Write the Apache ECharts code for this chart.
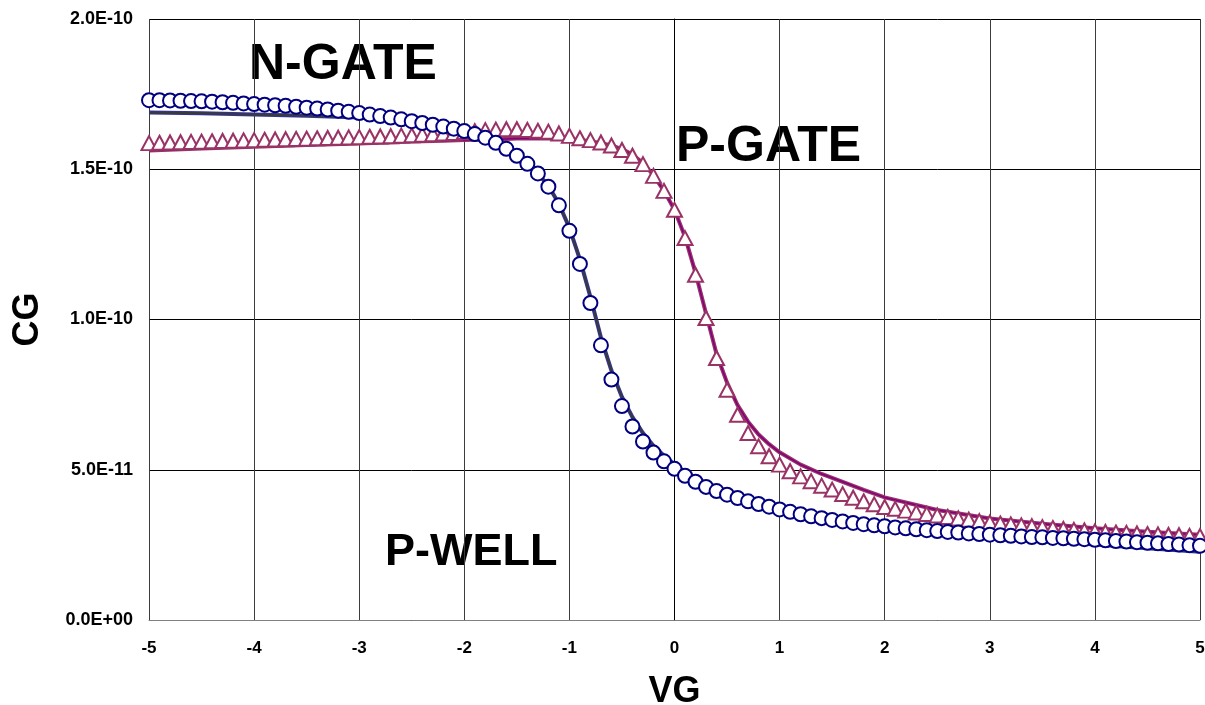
<!DOCTYPE html>
<html>
<head>
<meta charset="utf-8">
<script src="https://cdn.jsdelivr.net/npm/echarts@6/dist/echarts.min.js"></script>
<style>
  html, body { margin: 0; padding: 0; background: #fff; }
  #chart { width: 1205px; height: 705px; }
</style>
</head>
<body>
<div id="chart"></div>
<script>
// Gate voltage sweep, 0.1 V steps from -5 V to +5 V
const VG = Array.from({ length: 101 }, (_, i) => +(-5 + i * 0.1).toFixed(1));

// Measured gate capacitance, in units of 1E-11 F
const CG_N_GATE = [
  17.30, 17.30, 17.29, 17.28, 17.27, 17.26, 17.25, 17.23, 17.21, 17.19,
  17.17, 17.15, 17.13, 17.11, 17.08, 17.05, 17.02, 16.99, 16.95, 16.91,
  16.87, 16.82, 16.77, 16.72, 16.66, 16.60, 16.54, 16.48, 16.42, 16.35,
  16.27, 16.17, 16.05, 15.88, 15.68, 15.45, 15.18, 14.86, 14.42, 13.80,
  12.95, 11.85, 10.55, 9.14, 8.00, 7.12, 6.44, 5.94, 5.57, 5.28,
  5.03, 4.80, 4.60, 4.43, 4.29, 4.17, 4.06, 3.95, 3.86, 3.77,
  3.68, 3.60, 3.52, 3.45, 3.39, 3.33, 3.28, 3.23, 3.19, 3.15,
  3.12, 3.08, 3.05, 3.02, 2.99, 2.96, 2.93, 2.91, 2.88, 2.86,
  2.84, 2.82, 2.80, 2.78, 2.76, 2.75, 2.73, 2.72, 2.70, 2.69,
  2.67, 2.65, 2.63, 2.61, 2.59, 2.57, 2.55, 2.53, 2.51, 2.49,
  2.47
];

const CG_P_GATE = [
  15.87, 15.88, 15.89, 15.90, 15.91, 15.92, 15.93, 15.94, 15.95, 15.96,
  15.97, 15.98, 15.99, 16.00, 16.01, 16.02, 16.03, 16.04, 16.05, 16.06,
  16.07, 16.08, 16.09, 16.10, 16.12, 16.13, 16.15, 16.17, 16.19, 16.21,
  16.24, 16.27, 16.30, 16.32, 16.33, 16.33, 16.31, 16.28, 16.25, 16.19,
  16.11, 16.03, 15.97, 15.89, 15.79, 15.64, 15.45, 15.17, 14.78, 14.28,
  13.65, 12.71, 11.49, 10.05, 8.72, 7.66, 6.83, 6.22, 5.78, 5.45,
  5.17, 4.95, 4.78, 4.62, 4.47, 4.34, 4.19, 4.07, 3.95, 3.85,
  3.76, 3.70, 3.64, 3.58, 3.53, 3.48, 3.43, 3.38, 3.34, 3.29,
  3.24, 3.21, 3.18, 3.15, 3.12, 3.09, 3.06, 3.03, 3.00, 2.98,
  2.95, 2.93, 2.91, 2.90, 2.88, 2.86, 2.85, 2.83, 2.82, 2.80,
  2.79
];

// Simulated C-V curves, in units of 1E-11 F
const VG_FIT = [-5, -4.5, -4, -3.5, -3, -2.5, -2.2, -2, -1.8, -1.6, -1.5, -1.4, -1.3, -1.2, -1.1, -1.0,
  -0.9, -0.8, -0.7, -0.6, -0.5, -0.4, -0.3, -0.2, -0.1, 0, 0.1, 0.2, 0.3, 0.4, 0.5, 0.6, 0.7, 0.8, 0.9,
  1.0, 1.2, 1.4, 1.6, 1.8, 2.0, 2.5, 3, 3.5, 4, 4.5, 5];
const CG_N_FIT = [16.89, 16.86, 16.82, 16.78, 16.72, 16.58, 16.42, 16.27, 16.05, 15.68, 15.45, 15.18, 14.86,
  14.45, 13.85, 13.05, 12.00, 10.75, 9.40, 8.30, 7.42, 6.75, 6.22, 5.80, 5.47, 5.18, 4.93, 4.72, 4.55,
  4.40, 4.26, 4.13, 4.02, 3.92, 3.83, 3.74, 3.58, 3.45, 3.33, 3.22, 3.12, 2.93, 2.76, 2.63, 2.51, 2.39,
  2.27];
const CG_P_FIT = [15.62, 15.69, 15.75, 15.81, 15.86, 15.92, 15.95, 15.97, 15.99, 16.01, 16.02, 16.02, 16.02,
  16.02, 16.01, 16.00, 15.97, 15.93, 15.87, 15.79, 15.67, 15.49, 15.21, 14.80, 14.28, 13.65, 12.75, 11.55,
  10.20, 8.85, 7.90, 7.15, 6.60, 6.17, 5.85, 5.58, 5.17, 4.86, 4.60, 4.33, 4.08, 3.66, 3.38, 3.20, 3.05,
  2.94, 2.84];

const X_TICKS = [-5, -4, -3, -2, -1, 0, 1, 2, 3, 4, 5];
const CG_UNIT = 1e-11;

const FONT = '"Liberation Sans", Arial, Helvetica, sans-serif';

function sciLabel(v) {
  if (v === 0) return '0.0E+00';
  const f = v * CG_UNIT;
  const e = Math.floor(Math.log10(f) + 1e-9);
  const m = f / Math.pow(10, e);
  return m.toFixed(1) + 'E' + (e < 0 ? '-' : '+') + String(Math.abs(e)).padStart(2, '0');
}

const pairs = (xs, ys) => xs.map((x, i) => [x, ys[i]]);

function label(text, x, y, size) {
  return {
    type: 'text', x: x, y: y, z: -1, silent: true,
    style: {
      text: text, font: 'bold ' + size + 'px ' + FONT, fill: '#000',
      textAlign: 'left', align: 'left',
      textVerticalAlign: 'middle', verticalAlign: 'middle'
    }
  };
}

const chart = echarts.init(document.getElementById('chart'), null, { renderer: 'canvas' });

chart.setOption({
  animation: false,
  backgroundColor: '#ffffff',
  grid: { left: 149, right: 5, top: 19, bottom: 85, containLabel: false, outerBoundsMode: 'none' },
  xAxis: {
    type: 'value',
    min: -5, max: 5, interval: 1,
    name: 'VG',
    nameLocation: 'middle',
    nameGap: 54,
    nameTextStyle: { fontFamily: FONT, fontWeight: 'bold', fontSize: 36, color: '#000' },
    axisLine: { show: true, onZero: false, lineStyle: { color: '#808080', width: 1 } },
    axisTick: { show: false },
    axisLabel: {
      margin: 20, fontFamily: FONT, fontWeight: 'bold', fontSize: 17, color: '#000',
      formatter: v => X_TICKS.includes(v) ? String(v) : ''
    },
    splitLine: { show: true, lineStyle: { color: '#3c3c3c', width: 1 } }
  },
  yAxis: {
    type: 'value',
    min: 0, max: 20, interval: 5,
    name: 'CG',
    nameLocation: 'middle',
    nameGap: 103,
    nameRotate: 90,
    nameTextStyle: { fontFamily: FONT, fontWeight: 'bold', fontSize: 36, color: '#000' },
    axisLine: { show: true, lineStyle: { color: '#000', width: 1 } },
    axisTick: { show: false },
    axisLabel: {
      margin: 16, fontFamily: FONT, fontWeight: 'bold', fontSize: 18, color: '#000',
      formatter: sciLabel
    },
    splitLine: { show: true, lineStyle: { color: '#000', width: 1 } }
  },
  series: [
    {
      name: 'P-GATE sim', type: 'line', z: 2, showSymbol: false,
      data: pairs(VG_FIT, CG_P_FIT),
      lineStyle: { color: '#993366', width: 4, join: 'round' }
    },
    {
      name: 'P-GATE sim core', type: 'line', z: 3, showSymbol: false,
      data: pairs(VG_FIT, CG_P_FIT),
      lineStyle: { color: '#800080', width: 1.5, join: 'round' }
    },
    {
      name: 'N-GATE sim', type: 'line', z: 2, showSymbol: false,
      data: pairs(VG_FIT, CG_N_FIT),
      lineStyle: { color: '#333399', width: 4, join: 'round' }
    },
    {
      name: 'N-GATE sim core', type: 'line', z: 3, showSymbol: false,
      data: pairs(VG_FIT, CG_N_FIT),
      lineStyle: { color: '#3a3a3a', width: 2, join: 'round' }
    },
    {
      name: 'P-GATE', type: 'scatter', z: 4,
      symbol: 'triangle', symbolSize: [15, 14],
      data: pairs(VG, CG_P_GATE),
      itemStyle: { color: '#ffffff', borderColor: '#993366', borderWidth: 2, opacity: 1 }
    },
    {
      name: 'N-GATE', type: 'scatter', z: 5,
      symbol: 'circle', symbolSize: 14,
      data: pairs(VG, CG_N_GATE),
      itemStyle: { color: '#ffffff', borderColor: '#000080', borderWidth: 2, opacity: 1 }
    }
  ],
  graphic: [
    label('N-GATE', 249, 65, 50),
    label('P-GATE', 676, 147, 50),
    label('P-WELL', 385, 553, 45)
  ]
});
</script>
</body>
</html>
